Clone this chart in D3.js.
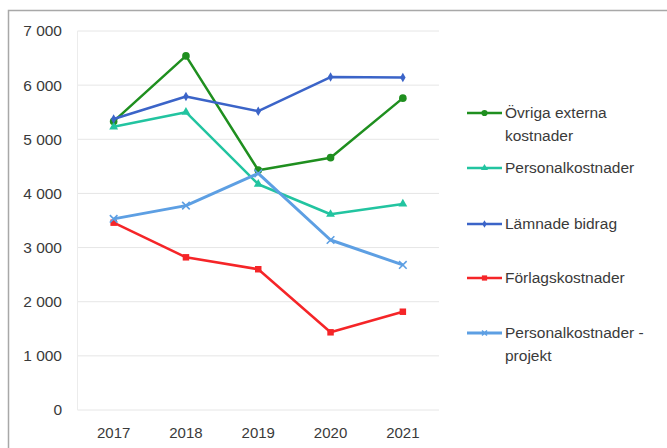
<!DOCTYPE html>
<html>
<head>
<meta charset="utf-8">
<script src="https://cdn.jsdelivr.net/npm/d3@7"></script>
<style>
  body { margin: 0; background: #fff; }
  svg { display: block; font-family: "Liberation Sans", Arial, sans-serif; }
</style>
</head>
<body>
<div id="chart"></div>
<script>
// Years on the x axis
const years = ["2017", "2018", "2019", "2020", "2021"];
const yTicks = [0, 1000, 2000, 3000, 4000, 5000, 6000, 7000];

// Series values
const ovrigaExterna = [5330, 6540, 4430, 4660, 5760];
const personal = [5230, 5500, 4170, 3615, 3805];
const lamnadeBidrag = [5375, 5790, 5520, 6150, 6140];
const forlag = [3460, 2820, 2600, 1435, 1815];
const personalProjekt = [3530, 3775, 4370, 3140, 2680];

const seriesNames = [
  ["Övriga externa", "kostnader"],
  ["Personalkostnader"],
  ["Lämnade bidrag"],
  ["Förlagskostnader"],
  ["Personalkostnader -", "projekt"]
];

const series = [
  { name: seriesNames[0], values: ovrigaExterna, color: "#1f8f1f", marker: "circle" },
  { name: seriesNames[1], values: personal, color: "#22c4a0", marker: "triangle" },
  { name: seriesNames[2], values: lamnadeBidrag, color: "#3b64c8", marker: "diamond" },
  { name: seriesNames[3], values: forlag, color: "#f52528", marker: "square" },
  { name: seriesNames[4], values: personalProjekt, color: "#5d9fe3", marker: "x" }
];

const width = 667, height = 448;
const margin = { left: 77.5, right: 228, top: 31, bottom: 38 };

const svg = d3.select("#chart").append("svg")
  .attr("width", width)
  .attr("height", height);

// outer frame (top and left edges visible)
svg.append("path")
  .attr("d", `M8.5,${height} L8.5,10.5 L${width},10.5`)
  .attr("fill", "none")
  .attr("stroke", "#a8a8a8")
  .attr("stroke-width", 1.5);

const x = d3.scaleBand()
  .domain(years)
  .range([margin.left, width - margin.right]);

const y = d3.scaleLinear()
  .domain([0, 7000])
  .range([height - margin.bottom, margin.top]);

// gridlines
svg.append("g")
  .selectAll("line")
  .data(yTicks)
  .enter()
  .append("line")
  .attr("x1", margin.left)
  .attr("x2", width - margin.right)
  .attr("y1", d => y(d))
  .attr("y2", d => y(d))
  .attr("stroke", "#e6e6e6")
  .attr("stroke-width", 1);

// y axis line (faint)
svg.append("line")
  .attr("x1", margin.left).attr("x2", margin.left)
  .attr("y1", y(0)).attr("y2", y(7000))
  .attr("stroke", "#ececec");

// y tick labels
const fmt = d => d3.format(",")(d).replace(",", " ");
svg.append("g")
  .selectAll("text")
  .data(yTicks)
  .enter()
  .append("text")
  .attr("x", 62)
  .attr("y", d => y(d))
  .attr("dy", "0.35em")
  .attr("text-anchor", "end")
  .attr("font-size", 15.5)
  .attr("fill", "#3a3a3a")
  .text(fmt);

// x tick labels
svg.append("g")
  .selectAll("text")
  .data(years)
  .enter()
  .append("text")
  .attr("x", d => x(d) + x.bandwidth() / 2)
  .attr("y", 438)
  .attr("text-anchor", "middle")
  .attr("font-size", 15)
  .attr("fill", "#3a3a3a")
  .text(d => d);

const line = d3.line()
  .x((d, i) => x(years[i]) + x.bandwidth() / 2)
  .y(d => y(d));

function drawMarker(g, type, color, size) {
  if (type === "x") {
    const s = size * 0.95;
    g.append("path")
      .attr("d", `M${-s},${-s}L${s},${s}M${-s},${s}L${s},${-s}`)
      .attr("stroke", color)
      .attr("stroke-width", 1.6)
      .attr("fill", "none");
    return;
  }
  const sym = {
    circle: d3.symbolCircle,
    triangle: d3.symbolTriangle,
    diamond: d3.symbolDiamond,
    square: d3.symbolSquare
  }[type];
  const area = { circle: 46, triangle: 34, diamond: 26, square: 42 }[type];
  g.append("path")
    .attr("d", d3.symbol().type(sym).size(area * size / 4)())
    .attr("fill", color);
}

// series lines + markers
series.forEach(s => {
  svg.append("path")
    .datum(s.values)
    .attr("d", line)
    .attr("fill", "none")
    .attr("stroke", s.color)
    .attr("stroke-width", s.marker === "x" ? 3 : 2.5)
    .attr("stroke-linejoin", "round");

  s.values.forEach((v, i) => {
    const g = svg.append("g")
      .attr("transform", `translate(${x(years[i]) + x.bandwidth() / 2},${y(v)})`);
    drawMarker(g, s.marker, s.color, 4);
  });
});

// legend
const legendY = [113, 168, 224, 278, 333];
series.forEach((s, i) => {
  const g = svg.append("g").attr("transform", `translate(467,${legendY[i]})`);
  g.append("line")
    .attr("x1", 0).attr("x2", 35)
    .attr("stroke", s.color)
    .attr("stroke-width", s.marker === "x" ? 3 : 2.5);
  const mg = g.append("g").attr("transform", "translate(17.5,0)");
  drawMarker(mg, s.marker, s.color, 2.6);
  s.name.forEach((t, j) => {
    g.append("text")
      .attr("x", 38)
      .attr("y", j * 22.5)
      .attr("dy", "0.35em")
      .attr("font-size", 15.5)
      .attr("fill", "#3a3a3a")
      .text(t);
  });
});
</script>
</body>
</html>
